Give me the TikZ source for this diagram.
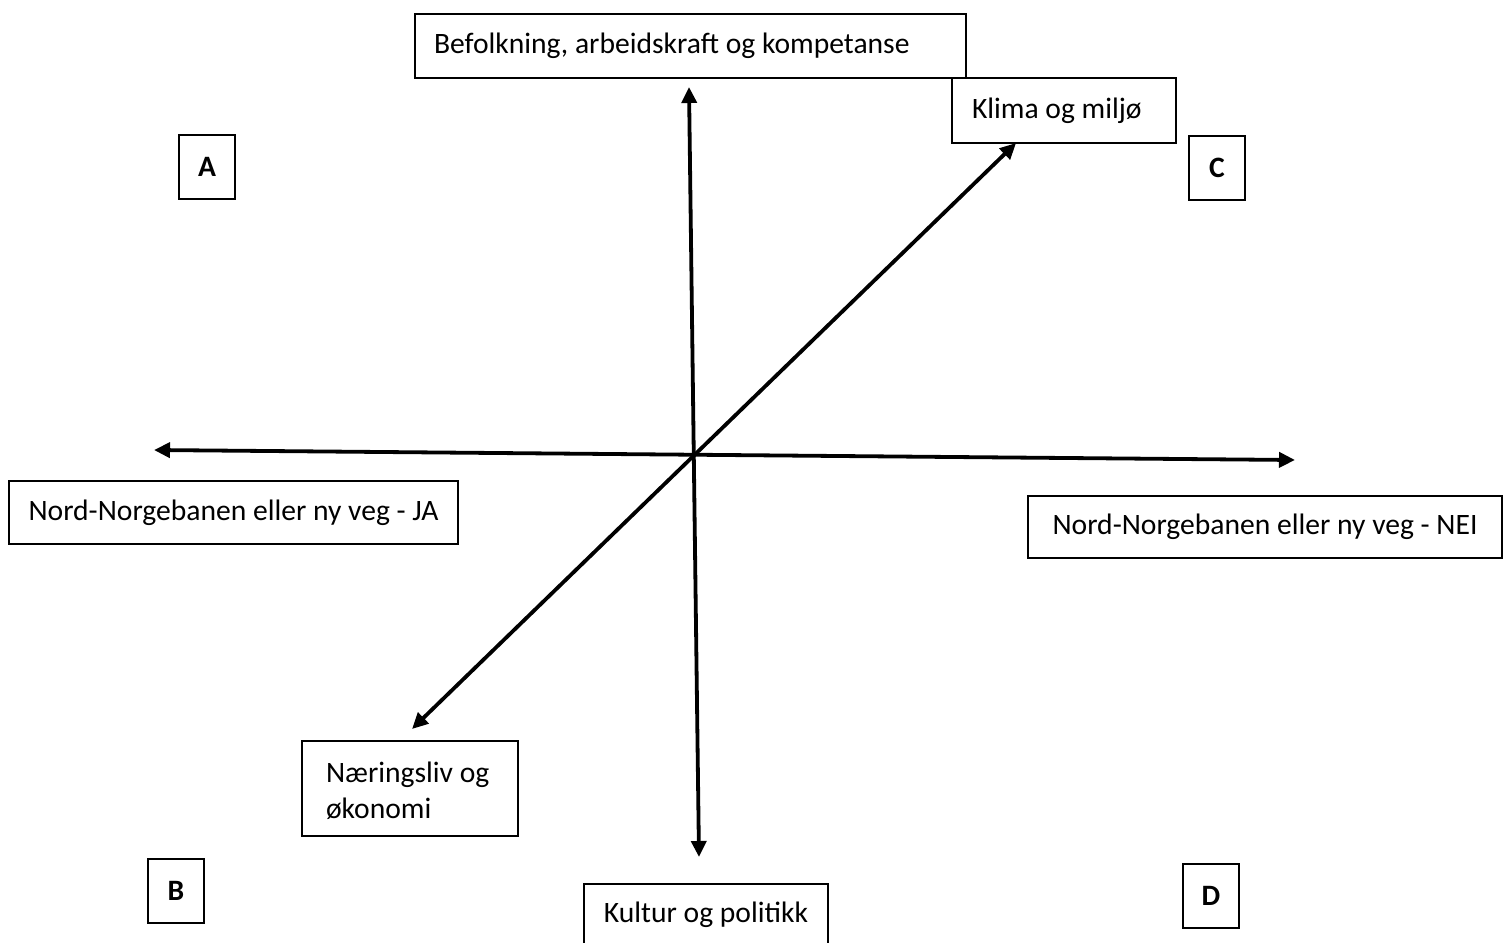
\documentclass[tikz,border=0pt]{standalone}
\usepackage{fontspec}
\setmainfont{Carlito}
\usetikzlibrary{arrows.meta}
\begin{document}
\begin{tikzpicture}[x=1pt,y=-1pt,
  every node/.style={font=\fontsize{29.6}{36}\selectfont},
  box/.style={draw, line width=2pt, anchor=north west, inner ysep=2pt},
  letter/.style={draw, line width=2pt, anchor=north west, minimum width=56pt, minimum height=64pt, inner sep=0pt, font=\fontsize{29.6}{36}\selectfont\bfseries},
  axis/.style={line width=3.8pt, {Triangle[length=16pt,width=15pt]}-{Triangle[length=16pt,width=15pt]}}
]
\useasboundingbox (0,0) rectangle (1512,942);
% boxes
\node[box, inner xsep=19pt, minimum height=64pt] (bef) at (414,13) {\makebox[513pt][l]{Befolkning, arbeidskraft og kompetanse}};
\node[box, inner xsep=20pt, minimum height=65pt] (klima) at (951,77) {\makebox[184pt][l]{Klima og milj\o}};
\node[box, minimum width=449pt, minimum height=63pt] (ja) at (8,480) {Nord-Norgebanen eller ny veg - JA};
\node[box, minimum width=474pt, minimum height=62pt] (nei) at (1027,495) {Nord-Norgebanen eller ny veg - NEI};
\node[box, inner xsep=24pt, minimum height=95pt] (naer) at (301,740) {\makebox[168pt][l]{\raisebox{-5pt}[\height][\depth]{\begin{tabular}{@{}l@{}}N\ae ringsliv og\\\o konomi\end{tabular}}}};
\node[box, minimum width=244pt, minimum height=62pt] (kult) at (583,883) {Kultur og politikk};
% letters
\node[letter] (A) at (178,134) {A};
\node[letter] (B) at (147,858) {B};
\node[letter] (C) at (1188,135) {C};
\node[letter] (D) at (1182,863) {D};
% axis end points
\coordinate (vt) at (689,87);
\coordinate (vb) at (699,857);
\coordinate (hl) at (154,450);
\coordinate (hr) at (1295,460);
\coordinate (dl) at (412,729);
\coordinate (du) at (1016,143);
\draw[axis] (vt) -- (vb);
\draw[axis] (hl) -- (hr);
\draw[axis] (dl) -- (du);
\end{tikzpicture}
\end{document}
